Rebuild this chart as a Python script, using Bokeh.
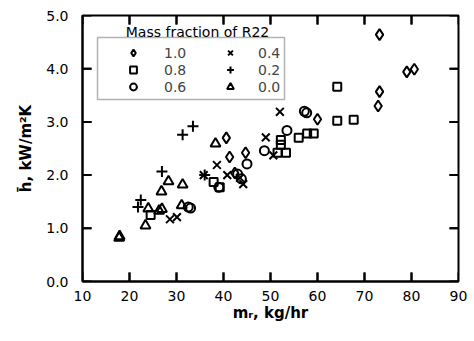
from bokeh.plotting import figure
from bokeh.models import (Range1d, FixedTicker, NumeralTickFormatter,
                          Legend, LegendItem, BoxAnnotation, Label)
from bokeh.embed import file_html
from bokeh.resources import INLINE

# Mass fraction of R22 series: (m_r kg/hr, h kW/m2K)
x_10 = [40.6, 41.3, 44.7, 42.4, 60.0, 73.2, 73.2, 72.9, 79.0, 80.6]
y_10 = [2.70, 2.34, 2.42, 2.04, 3.05, 4.64, 3.57, 3.30, 3.94, 3.99]

x_08 = [24.5, 37.9, 39.2, 52.2, 52.2, 51.5, 53.3, 56.0, 57.8, 59.2, 64.2, 64.2, 67.7]
y_08 = [1.25, 1.87, 1.77, 2.66, 2.57, 2.42, 2.42, 2.70, 2.78, 2.78, 3.66, 3.02, 3.04]

x_06 = [32.5, 33.0, 39.0, 43.8, 43.0, 45.0, 48.7, 53.5, 57.2, 57.7]
y_06 = [1.40, 1.38, 1.77, 1.93, 2.02, 2.21, 2.46, 2.84, 3.20, 3.17]

x_04 = [28.6, 30.1, 35.8, 38.6, 40.8, 43.5, 44.2, 49.0, 50.6, 52.0]
y_04 = [1.17, 1.21, 2.00, 2.19, 2.00, 1.95, 1.83, 2.71, 2.37, 3.19]

x_02 = [21.8, 22.4, 26.9, 31.3, 33.5, 36.0]
y_02 = [1.40, 1.53, 2.07, 2.76, 2.92, 2.00]

x_00 = [17.8, 17.9, 23.4, 24.0, 26.3, 26.9, 26.8, 28.3, 31.3, 31.1, 38.3]
y_00 = [0.82, 0.85, 1.05, 1.37, 1.33, 1.36, 1.69, 1.88, 1.82, 1.43, 2.59]

x_ticks = [10, 20, 30, 40, 50, 60, 70, 80, 90]
y_ticks = [0, 1, 2, 3, 4, 5]
legend_title = "Mass fraction of R22"

FONT = "DejaVu Sans"
X0, X1, Y0, Y1 = 10, 90, 0, 5
W, H = 474, 341
BL, BR, BT, BB = 82, 16, 15, 60
FW, FH = W - BL - BR, H - BT - BB
TICK_PX = 9
NAN = float("nan")

p = figure(width=W, height=H, x_range=Range1d(X0, X1), y_range=Range1d(Y0, Y1),
           output_backend="svg", toolbar_location=None,
           min_border_left=BL, min_border_right=BR, min_border_top=BT, min_border_bottom=BB)
p.grid.visible = False
p.background_fill_color = "white"
p.border_fill_color = "white"
p.outline_line_color = "black"
p.outline_line_width = 2

for ax in (p.xaxis[0], p.yaxis[0]):
    ax.axis_line_width = 2
    ax.major_tick_in = 0
    ax.major_tick_out = 0
    ax.major_tick_line_color = None
    ax.minor_tick_line_color = None
    ax.major_label_text_font = FONT
    ax.major_label_text_font_size = "14px"
    ax.major_label_text_color = "black"
    ax.axis_label_text_font = FONT
    ax.axis_label_text_font_size = "15px"
    ax.axis_label_text_font_style = "bold"
    ax.axis_label_text_color = "black"

p.xaxis[0].ticker = FixedTicker(ticks=x_ticks)
p.yaxis[0].ticker = FixedTicker(ticks=y_ticks)
p.yaxis[0].formatter = NumeralTickFormatter(format="0.0")
p.xaxis[0].major_label_standoff = 9
p.yaxis[0].major_label_standoff = 14
p.xaxis[0].axis_label = "m\u1d63, kg/hr"
p.yaxis[0].axis_label = "h\u0304, kW/m\u00b2K"
p.xaxis[0].axis_label_standoff = 0
p.yaxis[0].axis_label_standoff = 8

# inward tick marks on all four sides, built from the tick lists
px_x = (X1 - X0) / FW          # data units per pixel, horizontally
px_y = (Y1 - Y0) / FH          # data units per pixel, vertically
dx, dy = TICK_PX * px_x, TICK_PX * px_y
ex, ey = 0.5 * px_x, 0.5 * px_y  # start half a pixel inside the frame edge
hw_x, hw_y = 1.0 * px_x, 1.0 * px_y  # half tick thickness

# filled thin bars
p.quad(left=[t - hw_x for t in x_ticks], right=[t + hw_x for t in x_ticks],
       bottom=[Y0 + ey] * len(x_ticks), top=[Y0 + dy] * len(x_ticks),
       fill_color="black", line_color=None)
p.quad(left=[t - hw_x for t in x_ticks], right=[t + hw_x for t in x_ticks],
       bottom=[Y1 - dy] * len(x_ticks), top=[Y1 - ey] * len(x_ticks),
       fill_color="black", line_color=None)
p.quad(left=[X0 + ex] * len(y_ticks), right=[X0 + dx] * len(y_ticks),
       bottom=[t - hw_y for t in y_ticks], top=[t + hw_y for t in y_ticks],
       fill_color="black", line_color=None)
p.quad(left=[X1 - dx] * len(y_ticks), right=[X1 - ex] * len(y_ticks),
       bottom=[t - hw_y for t in y_ticks], top=[t + hw_y for t in y_ticks],
       fill_color="black", line_color=None)

# same ticks as a broken line (drawn on the same spots)
tx, ty = [], []
for t in x_ticks[1:-1]:
    tx += [t, t, NAN, t, t, NAN]
    ty += [Y0 + ey, Y0 + dy, NAN, Y1 - ey, Y1 - dy, NAN]
for t in y_ticks[1:-1]:
    tx += [X0 + ex, X0 + dx, NAN, X1 - ex, X1 - dx, NAN]
    ty += [t, t, NAN, t, t, NAN]
p.line(x=tx, y=ty, line_color="black", line_width=2)

common = dict(fill_color=None, line_color="black", line_width=2)
r10 = p.scatter(x_10, y_10, marker="diamond", size=11, **common)
r08 = p.scatter(x_08, y_08, marker="square", size=8, **common)
r06 = p.scatter(x_06, y_06, marker="circle", size=9, **common)
r04 = p.scatter(x_04, y_04, marker="x", size=11, **common)
r02 = p.scatter(x_02, y_02, marker="cross", size=11, **common)
r00 = p.scatter(x_00, y_00, marker="triangle", size=10, **common)

leg_style = dict(glyph_width=18, glyph_height=17, label_height=17, spacing=0, padding=0,
                 margin=0, border_line_color=None, background_fill_alpha=0,
                 label_text_font=FONT, label_text_font_size="14px", orientation="vertical")
leg1 = Legend(items=[LegendItem(label="1.0", renderers=[r10]),
                     LegendItem(label="0.8", renderers=[r08]),
                     LegendItem(label="0.6", renderers=[r06])],
              location=(42, 186), label_standoff=22, **leg_style)
leg2 = Legend(items=[LegendItem(label="0.4", renderers=[r04]),
                     LegendItem(label="0.2", renderers=[r02]),
                     LegendItem(label="0.0", renderers=[r00])],
              location=(139, 186), label_standoff=19, **leg_style)
p.add_layout(leg1)
p.add_layout(leg2)

box = BoxAnnotation(left=15, right=202, top=244, bottom=182,
                    left_units="screen", right_units="screen",
                    top_units="screen", bottom_units="screen",
                    fill_color=None, fill_alpha=0, line_color="black", line_width=1.5)
p.add_layout(box)

title = Label(x=115, y=250, x_units="screen", y_units="screen", text=legend_title,
              text_align="center", text_baseline="middle", text_font=FONT,
              text_font_size="14px", text_color="black")
p.add_layout(title)

open("out.html", "w").write(file_html(p, INLINE))
